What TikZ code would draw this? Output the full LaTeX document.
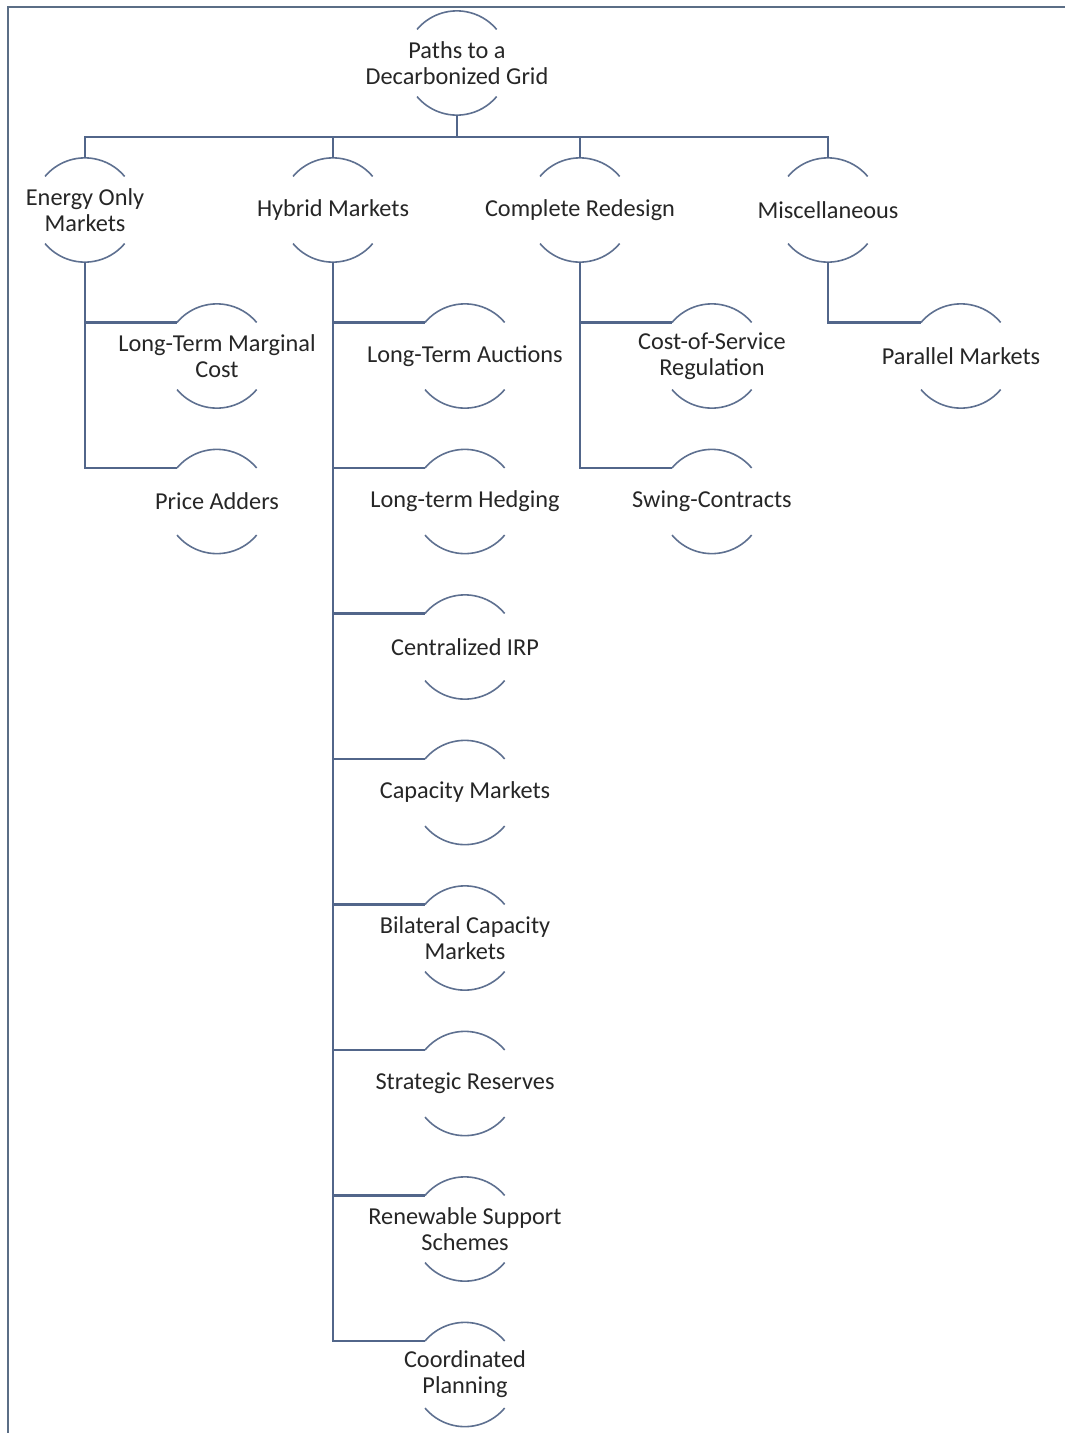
\documentclass[tikz,border=0pt]{standalone}
\usepackage{fontspec}
\setmainfont{Carlito}
\definecolor{linec}{HTML}{52668A}
\definecolor{arcc}{HTML}{5E7090}
\definecolor{framec}{HTML}{5B6E86}
\definecolor{txtc}{HTML}{262626}
\begin{document}
\begin{tikzpicture}[x=1pt,y=-1pt,
  ring/.style={circle,minimum size=104pt,inner sep=0pt,draw=none},
  txt/.style={font=\fontsize{24.3}{26}\selectfont,text=txtc,align=center,inner sep=0pt},
  conn/.style={draw=linec,line width=2.2pt},
  arcline/.style={draw=arcc,line width=1.6pt}]
\useasboundingbox (0,0) rectangle (1065,1433);
\draw[draw=framec,line width=2pt] (8,1433) -- (8,7) -- (1065,7);
% nodes
\node[ring,label={[txt]center:Paths to a\\Decarbonized Grid}] (root) at (457,63) {};
\node[ring,label={[txt]center:Energy Only\\Markets}] (eo) at (85,210) {};
\node[ring,label={[txt]center:Hybrid Markets}] (hy) at (333,210) {};
\node[ring,label={[txt]center:Complete Redesign}] (cr) at (580,210) {};
\node[ring,label={[txt]center:Miscellaneous}] (mi) at (828,210) {};
\node[ring,label={[txt]center:Long-Term Marginal\\Cost}] (eo1) at (217,356) {};
\node[ring,label={[txt]center:Price Adders}] (eo2) at (217,501.5) {};
\node[ring,label={[txt]center:Long-Term Auctions}] (hy1) at (465,356) {};
\node[ring,label={[txt]center:Long-term Hedging}] (hy2) at (465,501.5) {};
\node[ring,label={[txt]center:Centralized IRP}] (hy3) at (465,647) {};
\node[ring,label={[txt]center:Capacity Markets}] (hy4) at (465,792.5) {};
\node[ring,label={[txt]center:Bilateral Capacity\\Markets}] (hy5) at (465,938) {};
\node[ring,label={[txt]center:Strategic Reserves}] (hy6) at (465,1083.5) {};
\node[ring,label={[txt]center:Renewable Support\\Schemes}] (hy7) at (465,1229) {};
\node[ring,label={[txt]center:Coordinated\\Planning}] (hy8) at (465,1374.5) {};
\node[ring,label={[txt]center:Cost-of-Service\\Regulation}] (cr1) at (712,356) {};
\node[ring,label={[txt]center:Swing-Contracts}] (cr2) at (712,501.5) {};
\node[ring,label={[txt]center:Parallel Markets}] (mi1) at (961,356) {};
% arcs (angles negated because the y axis points down)
\foreach \n in {root,eo,hy,cr,mi,eo1,eo2,hy1,hy2,hy3,hy4,hy5,hy6,hy7,hy8,cr1,cr2,mi1}
  \draw[arcline] (\n.140) arc[start angle=-140,end angle=-40,radius=52]
                 (\n.220) arc[start angle=140,end angle=40,radius=52];
% connectors
\foreach \c in {eo,hy,cr,mi}
  \draw[conn] (root.south) -- ++(0,22) -| (\c.north);
\foreach \c in {eo1,eo2} \draw[conn] (eo.south) |- (\c.140);
\foreach \c in {hy1,hy2,hy3,hy4,hy5,hy6,hy7,hy8} \draw[conn] (hy.south) |- (\c.140);
\foreach \c in {cr1,cr2} \draw[conn] (cr.south) |- (\c.140);
\draw[conn] (mi.south) |- (mi1.140);
\end{tikzpicture}
\end{document}
